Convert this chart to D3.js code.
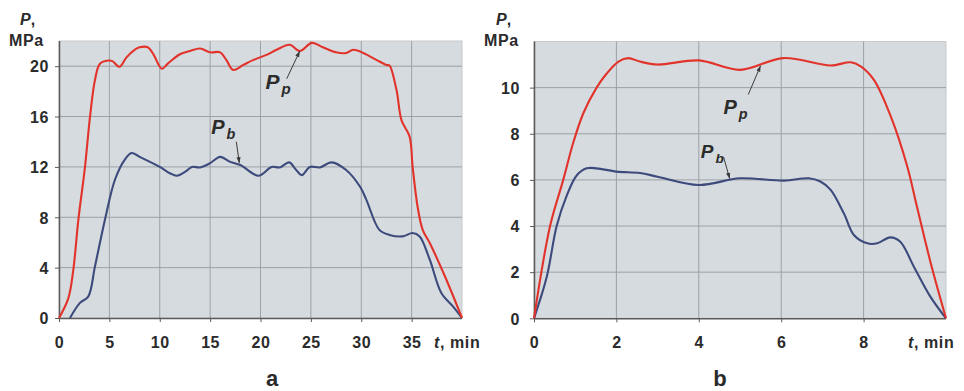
<!DOCTYPE html>
<html>
<head>
<meta charset="utf-8">
<script src="https://cdn.jsdelivr.net/npm/d3@7"></script>
<style>
  html, body { margin: 0; padding: 0; background: #ffffff; }
  svg { display: block; font-family: "Liberation Sans", Arial, sans-serif; }
</style>
</head>
<body>
<svg id="chart" width="964" height="391"></svg>
<script>
// ---------- Panel a (t, min 0..40) ----------
const aXTicks = [0, 5, 10, 15, 20, 25, 30, 35];
const aYTicks = [0, 4, 8, 12, 16, 20];
const aPpT = [0, 0.93, 1.42, 1.92, 2.58, 3.08, 3.57, 4.07, 4.9, 5.3, 6.0, 6.7, 7.5, 8.0, 8.8, 9.4, 10.2, 10.8, 12.0, 13.0, 14.0, 15.0, 16.0, 16.6, 17.3, 18.3, 19.3, 20.6, 21.6, 22.9, 23.9, 25.1, 26.2, 27.5, 28.5, 29.2, 30.2, 31.5, 32.5, 32.8, 33.5, 34.0, 34.8, 35.1, 35.6, 36.1, 36.8, 38.45, 40];
const aPpV = [0, 1.58, 3.83, 7.8, 12.0, 16.0, 18.9, 20.2, 20.45, 20.4, 19.95, 20.7, 21.3, 21.5, 21.5, 20.9, 19.8, 20.2, 20.95, 21.2, 21.4, 21.1, 21.1, 20.5, 19.7, 20.1, 20.5, 20.9, 21.3, 21.7, 21.2, 21.85, 21.5, 21.1, 21.05, 21.3, 21.05, 20.5, 20.1, 20.05, 18.1, 15.7, 14.4, 12.0, 8.8, 7.0, 5.95, 3.04, 0];
const aPbT = [1.09, 2.08, 2.9, 3.57, 4.56, 5.56, 6.55, 7.2, 8.0, 10.0, 11.0, 11.7, 12.5, 13.2, 14.0, 15.0, 16.0, 17.0, 18.0, 19.8, 21.1, 21.9, 22.85, 23.5, 24.1, 24.9, 25.9, 27.05, 28.5, 29.9, 30.5, 31.8, 32.8, 34.1, 35.1, 35.8, 36.8, 37.95, 39.1, 40];
const aPbV = [0, 1.2, 1.7, 4.1, 7.8, 11.0, 12.6, 13.1, 12.8, 12.0, 11.5, 11.3, 11.6, 12.0, 11.96, 12.3, 12.8, 12.4, 12.15, 11.3, 12.0, 11.96, 12.36, 11.8, 11.35, 12.0, 11.96, 12.36, 11.75, 10.4, 9.4, 7.0, 6.6, 6.48, 6.75, 6.48, 4.63, 1.98, 0.92, 0];

// ---------- Panel b (t, min 0..10) ----------
const bXTicks = [0, 2, 4, 6, 8];
const bYTicks = [0, 2, 4, 6, 8, 10];
const bPpT = [0, 0.39, 0.71, 0.95, 1.2, 1.52, 1.76, 2.05, 2.29, 2.57, 3.0, 4.0, 5.0, 6.05, 7.2, 7.69, 7.93, 8.25, 8.66, 9.06, 9.3, 9.63, 10];
const bPpV = [0, 4.0, 6.0, 7.6, 8.9, 10.0, 10.6, 11.13, 11.28, 11.13, 11.0, 11.18, 10.77, 11.28, 10.96, 11.1, 10.92, 10.34, 8.75, 6.58, 4.8, 2.39, 0];
const bPbT = [0, 0.31, 0.55, 0.79, 1.04, 1.28, 1.52, 2.0, 2.57, 3.0, 4.0, 5.0, 6.07, 6.67, 6.95, 7.2, 7.52, 7.77, 8.09, 8.33, 8.65, 8.89, 9.22, 9.62, 10];
const bPbV = [0, 1.8, 4.0, 5.3, 6.2, 6.5, 6.5, 6.36, 6.3, 6.14, 5.78, 6.07, 5.97, 6.07, 5.93, 5.57, 4.55, 3.6, 3.25, 3.25, 3.51, 3.32, 2.24, 0.94, 0];

const svg = d3.select("#chart");
const defs = svg.append("defs");
defs.append("marker").attr("id", "arr").attr("viewBox", "0 0 10 10")
  .attr("refX", 10).attr("refY", 5).attr("markerWidth", 6).attr("markerHeight", 6)
  .attr("orient", "auto")
  .append("path").attr("d", "M0,1.5 L10,5 L0,8.5 Z").attr("fill", "#3a3a3a");

const TXT = "#2b2b2b";

function panel(cfg) {
  const x = d3.scaleLinear().domain(cfg.xDomain).range([cfg.left, cfg.right]);
  const y = d3.scaleLinear().domain(cfg.yDomain).range([cfg.bottom, cfg.top]);
  const g = svg.append("g");

  g.append("rect").attr("x", cfg.left).attr("y", cfg.top)
    .attr("width", cfg.right - cfg.left).attr("height", cfg.bottom - cfg.top)
    .attr("fill", "#d6dbdf").attr("stroke", "#c9c9c9").attr("stroke-width", 1);

  // grid
  g.selectAll(".gx").data(cfg.xTicks.filter(d => d !== 0)).enter().append("line")
    .attr("x1", d => x(d)).attr("x2", d => x(d)).attr("y1", cfg.top).attr("y2", cfg.bottom)
    .attr("stroke", "#9ba1a7").attr("stroke-width", 1);
  g.selectAll(".gy").data(cfg.yTicks.filter(d => d !== 0)).enter().append("line")
    .attr("x1", cfg.left).attr("x2", cfg.right).attr("y1", d => y(d)).attr("y2", d => y(d))
    .attr("stroke", "#9ba1a7").attr("stroke-width", 1);

  // axes
  const xAxis = d3.axisBottom(x).tickValues(cfg.xTicks).tickSize(4).tickFormat(d3.format("d"));
  const yAxis = d3.axisLeft(y).tickValues(cfg.yTicks).tickSize(4).tickFormat(d3.format("d"));
  const gx = g.append("g").attr("transform", `translate(0,${cfg.bottom})`).call(xAxis);
  const gy = g.append("g").attr("transform", `translate(${cfg.left},0)`).call(yAxis);
  [gx, gy].forEach(a => {
    a.select(".domain").attr("stroke", "#5a5a5a").attr("stroke-width", 1.5);
    a.selectAll(".tick line").attr("stroke", "#5a5a5a");
    a.selectAll("text").attr("fill", TXT).attr("font-size", 16).attr("font-weight", "bold")
      .attr("letter-spacing", 0.6)
      .attr("font-family", "'Liberation Sans', Arial, sans-serif");
  });
  gx.selectAll("text").attr("dy", 0).attr("y", 30);
  gy.selectAll("text").attr("x", -cfg.yLabelGap).attr("dy", "0.36em");
  gx.select(".domain").attr("d", `M${cfg.left},0.5H${cfg.right}`);
  gy.select(".domain").attr("d", `M0.5,${cfg.bottom}V${cfg.top}`);

  // lines
  const line = d3.line().x(d => x(d[0])).y(d => y(d[1])).curve(d3.curveCatmullRom.alpha(0.5));
  g.append("path").datum(cfg.pbT.map((t, i) => [t, cfg.pbV[i]]))
    .attr("d", line).attr("fill", "none").attr("stroke", "#3d4a7c").attr("stroke-width", 2.1);
  g.append("path").datum(cfg.ppT.map((t, i) => [t, cfg.ppV[i]]))
    .attr("d", line).attr("fill", "none").attr("stroke", "#e2332b").attr("stroke-width", 2.1);

  // axis titles
  const tP = g.append("text").attr("x", cfg.pX).attr("y", 25).attr("fill", TXT)
    .attr("font-size", 16).attr("font-weight", "bold");
  tP.append("tspan").attr("font-style", "italic").text("P");
  tP.append("tspan").text(",");
  g.append("text").attr("x", cfg.mpaX).attr("y", 46).attr("fill", TXT)
    .attr("font-size", 16).attr("font-weight", "bold").attr("letter-spacing", 0.6).text("MPa");
  const tt = g.append("text").attr("x", cfg.tX).attr("y", 348).attr("fill", TXT)
    .attr("font-size", 16).attr("font-weight", "bold").attr("letter-spacing", 0.6);
  tt.append("tspan").attr("font-style", "italic").text("t");
  tt.append("tspan").text(", min");
  g.append("text").attr("x", cfg.capX).attr("y", 386).attr("text-anchor", "middle")
    .attr("fill", TXT).attr("font-size", 22).attr("font-weight", "bold").text(cfg.caption);

  // annotations
  cfg.notes.forEach(n => {
    g.append("line").attr("x1", x(n.from[0])).attr("y1", y(n.from[1]))
      .attr("x2", x(n.to[0])).attr("y2", y(n.to[1]))
      .attr("stroke", "#3a3a3a").attr("stroke-width", 1).attr("marker-end", "url(#arr)");
    const t = g.append("text").attr("x", x(n.at[0])).attr("y", y(n.at[1])).attr("fill", TXT)
      .attr("font-weight", "bold").attr("font-style", "italic").attr("font-size", n.size);
    t.append("tspan").text("P");
    t.append("tspan").attr("font-size", n.size * 0.72).attr("dx", 2).attr("dy", 5).text(n.sub);
  });
}

panel({
  xDomain: [0, 40], yDomain: [0, 22],
  left: 59, right: 462, top: 41, bottom: 318,
  xTicks: aXTicks, yTicks: aYTicks,
  ppT: aPpT, ppV: aPpV, pbT: aPbT, pbV: aPbV,
  yLabelGap: 10, pX: 20, mpaX: 9, tX: 434, capX: 272, caption: "a",
  notes: [
    { at: [20.5, 18.2], from: [22.6, 19.0], to: [23.9, 21.2], sub: "p", size: 21 },
    { at: [15.1, 14.65], from: [17.6, 14.0], to: [17.9, 12.3], sub: "b", size: 20 }
  ]
});

panel({
  xDomain: [0, 10], yDomain: [0, 12],
  left: 534, right: 946, top: 41.5, bottom: 318.3,
  xTicks: bXTicks, yTicks: bYTicks,
  ppT: bPpT, ppV: bPpV, pbT: bPbT, pbV: bPbV,
  yLabelGap: 14, pX: 496, mpaX: 484, tX: 908, capX: 720, caption: "b",
  notes: [
    { at: [4.6, 8.85], from: [5.2, 9.7], to: [5.5, 10.95], sub: "p", size: 20 },
    { at: [4.05, 6.95], from: [4.6, 7.0], to: [4.75, 6.05], sub: "b", size: 19 }
  ]
});
</script>
</body>
</html>
